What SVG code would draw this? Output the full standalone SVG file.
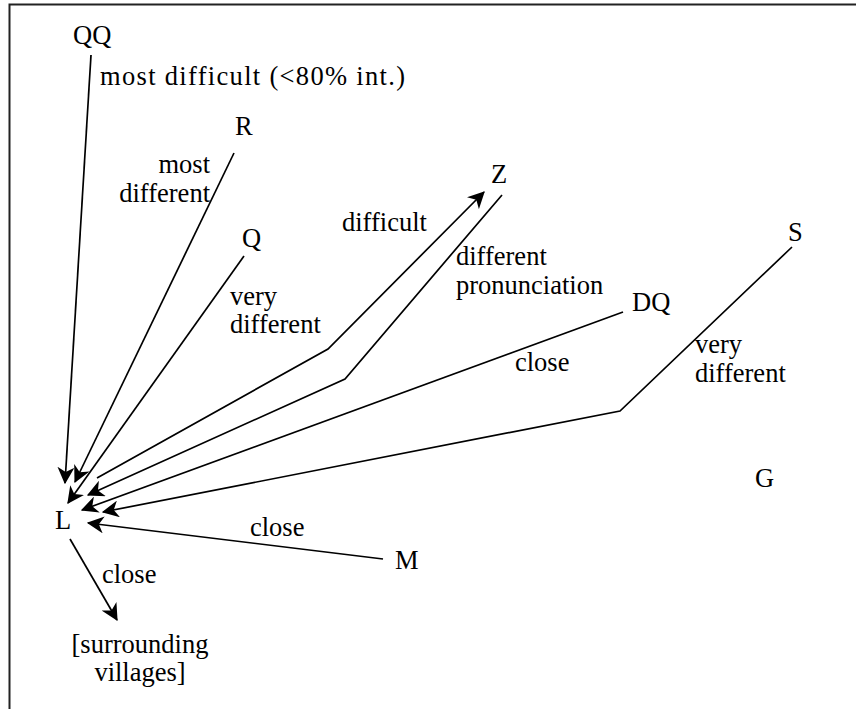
<svg xmlns="http://www.w3.org/2000/svg" width="856" height="709" viewBox="0 0 856 709">
<defs>
<marker id="ah" viewBox="0 0 14 14" refX="13" refY="7" markerWidth="17" markerHeight="17" markerUnits="userSpaceOnUse" orient="auto">
<path d="M0,0 L14,7 L0,14 L4,7 z" fill="#000"/>
</marker>
<style>
text{font-family:"Liberation Serif","Times New Roman",serif;font-size:26.5px;fill:#000}
.c{fill:none;stroke:#000;stroke-width:1.7}
.a{marker-end:url(#ah)}
</style>
</defs>
<rect width="856" height="709" fill="#fff"/>
<path d="M9.5,709 V4.5 H856" fill="none" stroke="#222" stroke-width="2"/>
<g id="connectors">
<line class="c a" x1="91" y1="55" x2="65" y2="483"/>
<line class="c a" x1="234" y1="153" x2="75" y2="482"/>
<line class="c a" x1="244" y1="256" x2="68" y2="503"/>
<polyline class="c a" points="97,478 328,349 484,192"/>
<polyline class="c a" points="502,195 345,379 88,495"/>
<line class="c a" x1="623" y1="312" x2="82" y2="510"/>
<polyline class="c a" points="792,247 620,411 103,512"/>
<line class="c a" x1="383" y1="559" x2="88" y2="523"/>
<line class="c a" x1="70" y1="539" x2="117" y2="620"/>
<text x="100" y="85" textLength="305" lengthAdjust="spacing">most difficult (&lt;80% int.)</text>
<text x="210" y="173" text-anchor="end">most</text>
<text x="210" y="202" text-anchor="end">different</text>
<text x="230" y="305">very</text>
<text x="230" y="333">different</text>
<text x="342" y="231">difficult</text>
<text x="456" y="265">different</text>
<text x="456" y="294">pronunciation</text>
<text x="515" y="371">close</text>
<text x="695" y="353">very</text>
<text x="695" y="382">different</text>
<text x="250" y="536">close</text>
<text x="102" y="583">close</text>
</g>
<g id="QQ"><text x="73" y="44">QQ</text></g>
<g id="R"><text x="235" y="135">R</text></g>
<g id="Q"><text x="242" y="247">Q</text></g>
<g id="Z"><text x="491" y="183">Z</text></g>
<g id="DQ"><text x="632" y="311">DQ</text></g>
<g id="S"><text x="788" y="241">S</text></g>
<g id="G"><text x="755" y="487">G</text></g>
<g id="L"><text x="55" y="529">L</text></g>
<g id="M"><text x="395" y="569">M</text></g>
<g id="villages"><text x="140" y="653" text-anchor="middle">[surrounding</text><text x="140" y="681" text-anchor="middle">villages]</text></g>
</svg>
